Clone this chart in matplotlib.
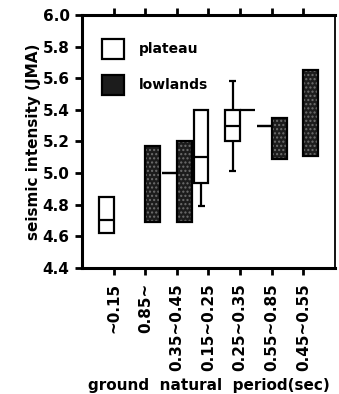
import numpy as np
import matplotlib
matplotlib.use("Agg")
import matplotlib.pyplot as plt
from matplotlib.patches import Patch

plt.rcParams['font.family'] = ['DejaVu Sans']
plt.rcParams['font.weight'] = 'bold'

categories = ['~0.15', '0.85~', '0.35~0.45', '0.15~0.25', '0.25~0.35', '0.55~0.85', '0.45~0.55']

# plateau boxes (nan = no data)
plateau_q1 = [4.62, np.nan, 5.00, 4.94, 5.20, 5.30, np.nan]
plateau_med = [4.70, np.nan, 5.00, 5.10, 5.30, 5.30, np.nan]
plateau_q3 = [4.85, np.nan, 5.00, 5.40, 5.40, 5.30, np.nan]
plateau_lo = [np.nan, np.nan, np.nan, 4.79, 5.01, np.nan, np.nan]
plateau_hi = [np.nan, np.nan, np.nan, np.nan, 5.58, np.nan, np.nan]

# lowlands boxes
lowlands_q1 = [np.nan, 4.69, 4.69, np.nan, 5.40, 5.09, 5.11]
lowlands_q3 = [np.nan, 5.17, 5.20, np.nan, 5.40, 5.35, 5.65]

w = 0.47
dark = '#1c1c1c'
dots = '#6e6e6e'

fig = plt.figure(figsize=(3.39, 3.94), dpi=100)
ax = fig.add_axes([0.242, 0.320, 0.746, 0.642])

x = np.arange(1, len(categories) + 1)
p_q1 = np.array(plateau_q1)
p_q3 = np.array(plateau_q3)
l_q1 = np.array(lowlands_q1)
l_q3 = np.array(lowlands_q3)

# plateau: open boxes to the left of each tick
ax.bar(x, p_q3 - p_q1, bottom=p_q1, width=-w, align='edge',
       facecolor='white', edgecolor='black', linewidth=1.6, zorder=3)
ax.hlines(plateau_med, x - w, x, color='black', linewidth=1.6, zorder=4)
for xi, q1, q3, lo, hi in zip(x, plateau_q1, plateau_q3, plateau_lo, plateau_hi):
    c = xi - w / 2
    if not np.isnan(lo):
        ax.vlines(c, lo, q1, color='black', linewidth=1.6, zorder=2)
        ax.hlines(lo, c - 0.11, c + 0.11, color='black', linewidth=1.6, zorder=2)
    if not np.isnan(hi):
        ax.vlines(c, q3, hi, color='black', linewidth=1.6, zorder=2)
        ax.hlines(hi, c - 0.11, c + 0.11, color='black', linewidth=1.6, zorder=2)

# lowlands: dark stippled boxes to the right of each tick
ax.bar(x, l_q3 - l_q1, bottom=l_q1, width=w, align='edge',
       facecolor=dark, edgecolor=dots, hatch='....', linewidth=0, zorder=3)
ax.bar(x, l_q3 - l_q1, bottom=l_q1, width=w, align='edge',
       facecolor='none', edgecolor='black', linewidth=1.6, zorder=4)

ax.set_xlim(0, 8)
ax.set_ylim(4.4, 6.0)
yt = np.arange(4.4, 6.01, 0.2)
ax.set_yticks(yt)
ax.set_yticklabels([f'{v:.1f}' for v in yt], fontsize=11, fontweight='bold')
ax.set_xticks(x)
ax.set_xticklabels(categories, rotation=90, fontsize=11, fontweight='bold')
ax.tick_params(axis='both', direction='out', length=5, width=2, pad=4)
ax.tick_params(axis='x', top=True, pad=6)
for s in ax.spines.values():
    s.set_linewidth(1.3)
ax.spines['left'].set_linewidth(2.2)
ax.spines['bottom'].set_linewidth(2.2)
ax.spines['top'].set_linewidth(2.2)

ax.set_ylabel('seismic intensity (JMA)', fontsize=11, fontweight='bold', labelpad=1)
ax.set_xlabel('ground  natural  period(sec)', fontsize=11, fontweight='bold', labelpad=5)

handles = [Patch(facecolor='white', edgecolor='black', linewidth=1.6, label='plateau'),
           Patch(facecolor=dark, edgecolor='black', linewidth=1.6, label='lowlands')]
ax.legend(handles=handles, loc='upper left', bbox_to_anchor=(0.03, 0.955), frameon=False,
          handlelength=1.55, handleheight=1.8, handletextpad=1.1, labelspacing=1.2,
          prop={'weight': 'bold', 'size': 10})

fig.savefig('out.png', dpi=100)
